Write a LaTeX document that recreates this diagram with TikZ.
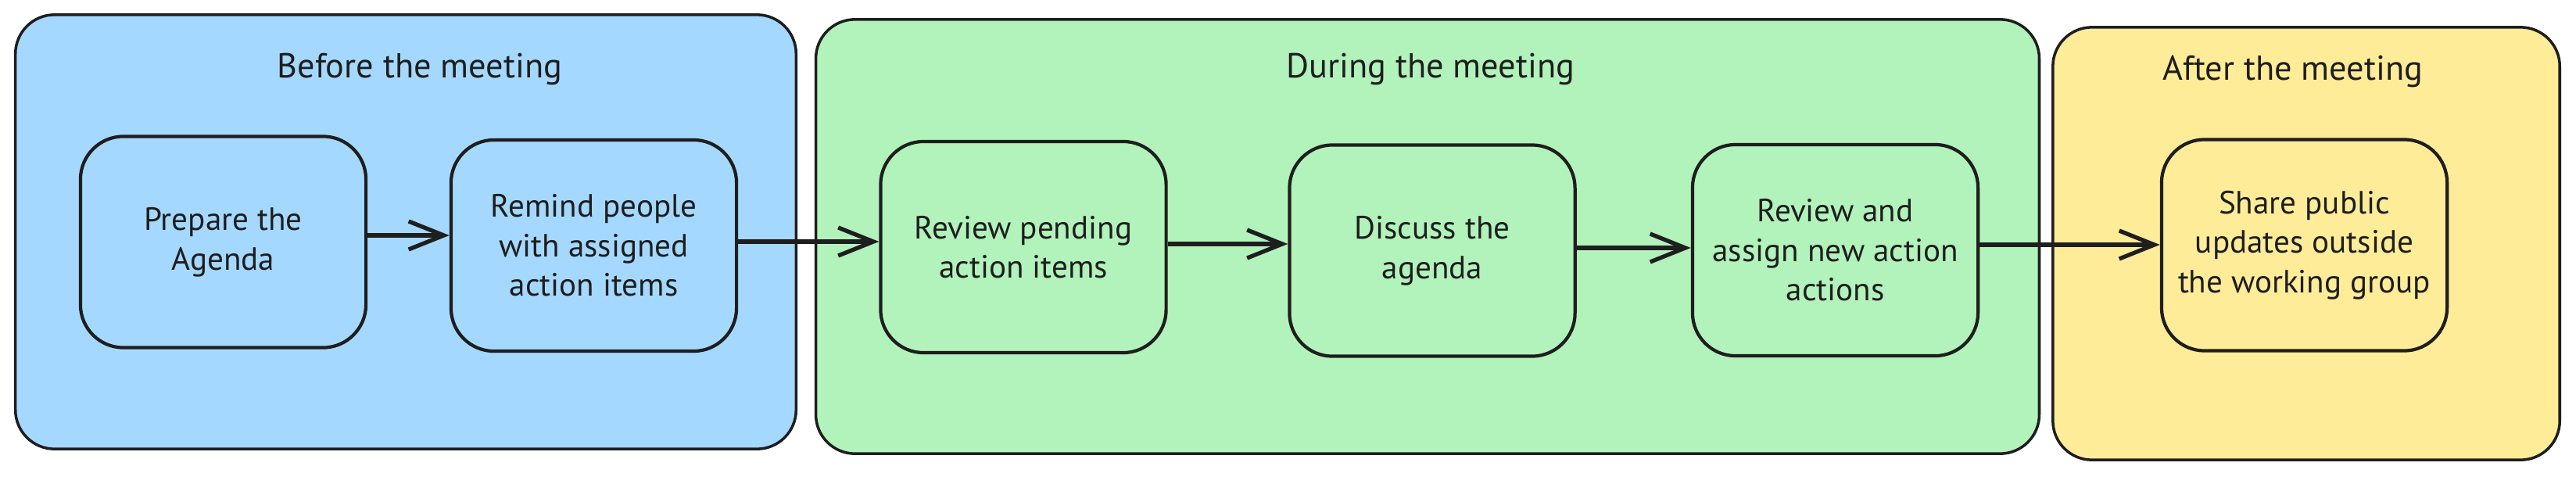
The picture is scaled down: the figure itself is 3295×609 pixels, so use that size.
\documentclass[tikz,border=0pt]{standalone}
\usepackage{fontspec}
\setmainfont{PT Sans}
\usetikzlibrary{arrows.meta}
\definecolor{inkc}{HTML}{1E1E1E}
\definecolor{beforefill}{HTML}{A5D8FF}
\definecolor{duringfill}{HTML}{B2F2BB}
\definecolor{afterfill}{HTML}{FFEC99}
\tikzset{
  phase/.style={draw=inkc, line width=1pt, rounded corners=0.5cm, inner sep=0pt},
  stepbox/.style={draw=inkc, line width=1.2pt, rounded corners=0.55cm,
    minimum width=3.65cm, minimum height=2.7cm, align=center,
    font=\fontsize{11.7}{14.4}\selectfont, text=inkc},
  phasetitle/.style={font=\fontsize{12.6}{15}\selectfont, text=inkc},
  flow/.style={draw=inkc, line width=1.5pt,
    -{Straight Barb[length=0.45cm,width=0.36cm,line width=1.5pt]}}
}
\begin{document}
\begin{tikzpicture}[x=0.01cm,y=-0.01cm]
\useasboundingbox (0,0) rectangle (3295,609);

% phase panels
\node[phase, fill=beforefill, minimum width=9.98cm, minimum height=5.55cm] (before) at (519,296.5) {};
\node[phase, fill=duringfill, minimum width=15.64cm, minimum height=5.55cm] (during) at (1826,302.5) {};
\node[phase, fill=afterfill, minimum width=6.48cm, minimum height=5.53cm] (after) at (2950,311.5) {};

% panel titles
\node[phasetitle] (tbefore) at (537,89) {Before the meeting};
\node[phasetitle] (tduring) at (1830,89) {During the meeting};
\node[phasetitle] (tafter) at (2933,91) {After the meeting};

% steps
\node[stepbox, fill=beforefill] (s1) at (285.5,309.5) {Prepare the\\Agenda};
\node[stepbox, fill=beforefill] (s2) at (759.5,314) {Remind people\\with assigned\\action items};
\node[stepbox, fill=duringfill] (s3) at (1309,316) {Review pending\\action items};
\node[stepbox, fill=duringfill] (s4) at (1832,320.5) {Discuss the\\agenda};
\node[stepbox, fill=duringfill] (s5) at (2347.5,320) {Review and\\assign new action\\actions};
\node[stepbox, fill=afterfill] (s6) at (2947.5,313.5) {Share public\\updates outside\\the working group};

% heights at which the connectors run
\coordinate (h1) at (0,301);
\coordinate (h2) at (0,309);
\coordinate (h3) at (0,312);
\coordinate (h4) at (0,317);
\coordinate (h5) at (0,313);

% flow between steps
\draw[flow] (s1.east |- h1) -- (s2.west |- h1);
\draw[flow] (s2.east |- h2) -- (s3.west |- h2);
\draw[flow] (s3.east |- h3) -- (s4.west |- h3);
\draw[flow] (s4.east |- h4) -- (s5.west |- h4);
\draw[flow] (s5.east |- h5) -- (s6.west |- h5);
\end{tikzpicture}
\end{document}
